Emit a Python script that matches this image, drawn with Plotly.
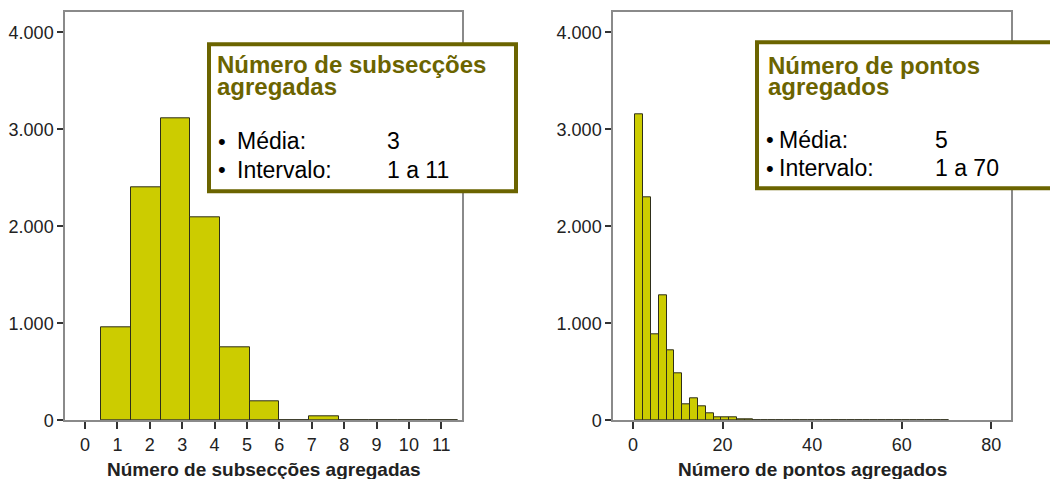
import numpy as np
import plotly.graph_objects as go
from plotly.subplots import make_subplots

# ---------------- data ----------------
# Left histogram: "Número de subsecções agregadas"
sub_bin_start = 0.5
sub_bin_width = 0.917
sub_counts = [960, 2405, 3115, 2093, 755, 198, 0, 40, 0, 0, 0, 0]
sub_xticks = list(range(0, 12))

# Right histogram: "Número de pontos agregados"
pts_bin_start = 0.5
pts_bin_width = 1.75
pts_counts = [3150, 2295, 890, 1290, 725, 488, 165, 232, 140, 68,
              28, 30, 28, 8, 6, 5, 4, 3, 2, 2,
              2, 2, 2, 1, 1, 1, 1, 1, 1, 0,
              0, 0, 1, 1, 0, 0, 1, 0, 0, 1]
pts_xticks = [0, 20, 40, 60, 80]

y_ticks = [0, 1000, 2000, 3000, 4000]

box_sub_title = ["Número de subsecções", "agregadas"]
box_sub_labels = ["Média:", "Intervalo:"]
box_sub_values = ["3", "1 a 11"]

box_pts_title = ["Número de pontos", "agregados"]
box_pts_labels = ["Média:", "Intervalo:"]
box_pts_values = ["5", "1 a 70"]

xtitle_sub = "Número de subsecções agregadas"
xtitle_pts = "Número de pontos agregados"

# ---------------- styles ----------------
# page body has an 8px margin; the photographed page is slightly squeezed vertically
OFFX, OFFY, SY = 8, 7.7, 0.979
FW, FH = 1050, 479
FONT = "Liberation Sans, Arial, sans-serif"
BAR = "#cccc00"
EDGE = "#2e2e1a"
OLIVE = "#6b6400"
FRAME = "#8a8a8a"


def px(x):
    return (x - OFFX) / FW


def py(y):
    return 1 - ((y - OFFY) / SY) / FH


def centers(start, width, counts):
    n = len(counts)
    return start + width * (np.arange(n) + 0.5)


fig = make_subplots(rows=1, cols=2)

fig.add_trace(go.Bar(
    x=centers(sub_bin_start, sub_bin_width, sub_counts), y=sub_counts,
    width=sub_bin_width, marker=dict(color=BAR, line=dict(color=EDGE, width=1)),
    showlegend=False), row=1, col=1)

fig.add_trace(go.Bar(
    x=centers(pts_bin_start, pts_bin_width, pts_counts), y=pts_counts,
    width=pts_bin_width, marker=dict(color=BAR, line=dict(color=EDGE, width=1)),
    showlegend=False), row=1, col=2)

axis_common = dict(showline=True, linecolor=FRAME, linewidth=1.5, mirror=True,
                   ticks="outside", tickcolor="#333", tickwidth=1.5,
                   showgrid=False, zeroline=False,
                   tickfont=dict(family=FONT, size=18, color="#222"))

ydom = [py(420), py(12)]
fig.update_layout(
    xaxis=dict(domain=[px(65), px(462)], range=[-0.62, 11.64], tickvals=sub_xticks,
               ticklen=7, **axis_common),
    xaxis2=dict(domain=[px(613), px(1011)], range=[-4.46, 84.4], tickvals=pts_xticks,
                ticklen=7, **axis_common),
    yaxis=dict(domain=ydom, range=[0, 4206], tickvals=y_ticks, tickformat=",d",
               ticklen=6, **axis_common),
    yaxis2=dict(domain=ydom, range=[0, 4206], tickvals=y_ticks, tickformat=",d",
                ticklen=6, **axis_common),
)

shapes = [
    dict(type="rect", xref="paper", yref="paper", x0=px(209), x1=px(516),
         y0=py(44), y1=py(191), line=dict(color=OLIVE, width=4), fillcolor="white",
         layer="above"),
    dict(type="rect", xref="paper", yref="paper", x0=px(757), x1=px(1075),
         y0=py(42), y1=py(188), line=dict(color=OLIVE, width=4), fillcolor="white",
         layer="above"),
]

annotations = []


def add_text(x, y, text, size, color, bold=False, xanchor="left"):
    annotations.append(dict(
        xref="paper", yref="paper", x=px(x), y=py(y), text=(f"<b>{text}</b>" if bold else text),
        showarrow=False, xanchor=xanchor, yanchor="middle",
        font=dict(family=FONT, size=size, color=color)))


# left box
for i, t in enumerate(box_sub_title):
    add_text(215, 64 + 22.5 * i, t, 24, OLIVE, bold=True)
for i, (lab, val) in enumerate(zip(box_sub_labels, box_sub_values)):
    add_text(216, 141 + 28.5 * i, "•", 22, "black")
    add_text(235, 141 + 28.5 * i, lab, 23, "black")
    add_text(385, 141 + 28.5 * i, val, 23, "black")

# right box
for i, t in enumerate(box_pts_title):
    add_text(766, 65 + 21.5 * i, t, 24, OLIVE, bold=True)
for i, (lab, val) in enumerate(zip(box_pts_labels, box_pts_values)):
    add_text(764, 139.5 + 28.5 * i, "•", 22, "black")
    add_text(777, 139.5 + 28.5 * i, lab, 23, "black")
    add_text(933, 139.5 + 28.5 * i, val, 23, "black")

# axis titles
add_text(263.5, 469, xtitle_sub, 19, "#222", bold=True, xanchor="center")
add_text(812, 469, xtitle_pts, 19, "#222", bold=True, xanchor="center")

fig.update_layout(
    width=FW, height=FH, margin=dict(l=0, r=0, t=0, b=0),
    paper_bgcolor="white", plot_bgcolor="white",
    separators=",.", bargap=0, shapes=shapes, annotations=annotations,
    font=dict(family=FONT),
)

fig.write_html("out.html")
